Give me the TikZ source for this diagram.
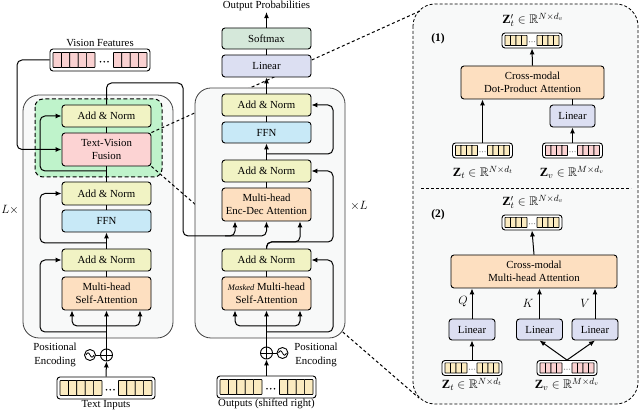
\documentclass[tikz,border=0pt]{standalone}
\usepackage{fontspec}
\setmainfont{Liberation Serif}
\usepackage{amssymb}
\usetikzlibrary{arrows.meta,calc}
\definecolor{anC}{HTML}{F1F3C4}
\definecolor{ffnC}{HTML}{C8E9F7}
\definecolor{attC}{HTML}{FDDFC0}
\definecolor{fusC}{HTML}{FCD3D3}
\definecolor{linC}{HTML}{DCDFF2}
\definecolor{smC}{HTML}{D5E8DA}
\definecolor{grnC}{HTML}{BFF3CB}
\definecolor{bgC}{HTML}{F8F9F9}
\definecolor{yelCell}{HTML}{FBEBC0}
\definecolor{pinkCell}{HTML}{FAD1D1}
\tikzset{
  blk/.style={draw=black, line width=0.9pt, rounded corners=3pt, inner sep=0pt, align=center,
    font=\fontsize{10.8}{12.5}\selectfont, minimum width=89pt},
  lbl/.style={font=\fontsize{10.8}{13.5}\selectfont, inner sep=1pt, align=center},
  mlbl/.style={font=\fontsize{12.5}{14}\selectfont, inner sep=1pt},
  conn/.style={line width=1pt, rounded corners=5pt},
  arr/.style={conn, -{Latex[length=6pt,width=5pt]}},
  vecbox/.style={draw=black, line width=0.9pt, rounded corners=3pt, fill=white, inner sep=0pt},
  cell/.style={draw=black, line width=0.7pt, rounded corners=0.5pt},
  dashconn/.style={line width=1pt, dash pattern=on 3pt off 2.5pt},
  pcirc/.style={circle, draw=black, line width=0.9pt, inner sep=0pt, fill=white}
}
\newcommand{\tokvec}[9]{%
  \node[vecbox, minimum width=#4pt, minimum height=#5pt] (#1) at (#2,#3) {};
  \pgfmathsetmacro{\tvP}{0.16*#5}
  \pgfmathsetmacro{\tvH}{#5-2*\tvP}
  \pgfmathsetmacro{\tvL}{#2-#4/2+3}
  \pgfmathsetmacro{\tvRt}{#2+#4/2-3-#7*#8}
  \pgfmathsetmacro{\tvT}{#3-\tvH/2}
  \foreach \i in {1,...,#6}{\draw[cell, fill=#9] (\tvL+\i*#8-#8,\tvT) rectangle ++(#8,\tvH);}
  \foreach \i in {1,...,#7}{\draw[cell, fill=#9] (\tvRt+\i*#8-#8,\tvT) rectangle ++(#8,\tvH);}
  \pgfmathsetmacro{\tvM}{(\tvL+#6*#8+\tvRt)/2}
  \pgfmathsetmacro{\tvR}{0.04*#5}
  \pgfmathsetmacro{\tvS}{0.17*#5}
  \pgfmathsetmacro{\tvY}{#3+0.08*#5}
  \ifdim #5pt>18pt \def\tvC{black}\else\def\tvC{gray}\fi
  \foreach \j in {-1,0,1}{\fill[\tvC] (\tvM+\j*\tvS,\tvY) circle[radius=\tvR pt];}
}
\begin{document}
\begin{tikzpicture}[x=1pt,y=-1pt]
\useasboundingbox (0,0) rectangle (640,411);

% ---------------- right panel background ----------------
\draw[line width=0.8pt, dash pattern=on 3pt off 2pt, fill=bgC, rounded corners=22pt] (413,4) rectangle (638,404);
\draw[line width=0.8pt, dash pattern=on 3pt off 2pt] (421,188) -- (631,188);

% ---------------- encoder ----------------
\draw[line width=0.8pt, draw=black!75, fill=bgC, rounded corners=16pt] (23,95) rectangle (173,338);
\draw[line width=1pt, dash pattern=on 4pt off 2.5pt, fill=grnC, rounded corners=8pt] (35,99) rectangle (162,177);

\node[blk, fill=anC, minimum height=22pt] (eAN1) at (106.5,116) {Add \& Norm};
\node[blk, fill=fusC, minimum height=33pt] (eFus) at (106.5,149.5) {Text-Vision\\Fusion};
\node[blk, fill=anC, minimum height=23pt] (eAN2) at (106.5,193.5) {Add \& Norm};
\node[blk, fill=ffnC, minimum height=22pt] (eFFN) at (106.5,221) {FFN};
\node[blk, fill=anC, minimum height=22pt] (eAN3) at (106.5,260) {Add \& Norm};
\node[blk, fill=attC, minimum height=33pt] (eSA) at (106.5,293.5) {Multi-head\\Self-Attention};

\tokvec{vf}{100}{60}{100}{22}{5}{4}{8.4}{pinkCell}
\node[lbl] (vfl) at (100,43) {Vision Features};
\tokvec{tin}{106}{388}{98}{22}{5}{4}{8.4}{yelCell}
\node[lbl] (tinl) at (106,405) {Text Inputs};

\node[pcirc, minimum size=12pt] (ePlus) at (106.5,355) {};
\draw[line width=0.8pt] (ePlus.north) -- (ePlus.south) (ePlus.west) -- (ePlus.east);
\node[pcirc, minimum size=11pt] (eSin) at (90,355) {};
\draw[line width=0.8pt] ([xshift=-4pt]eSin.center) sin ++(2,-2.2) cos ++(2,2.2) sin ++(2,2.2) cos ++(2,-2.2);
\draw[line width=0.8pt] (eSin) -- (ePlus);
\node[lbl] (ePE) at (55,355) {Positional\\Encoding};
\node[lbl, font=\fontsize{12.5}{14}\selectfont] (Lx) at (10,210) {$L\times$};

\coordinate (eB1) at (106.5,326);
\coordinate (eR1) at (106.5,332);
\coordinate (eR2) at (106.5,243);
\coordinate (eR3) at (106.5,171);
\draw[arr] (tin.north) -- (ePlus.south);
\draw[arr] (ePlus.north) -- (eSA.south);
\draw[arr] (eB1) -| ([xshift=-34.5pt]eSA.south);
\draw[arr] (eB1) -| ([xshift=33.5pt]eSA.south);
\draw[arr] (eR1) -| (40,260) -- (eAN3.west);
\draw[conn] (eSA.north) -- (eAN3.south);
\draw[arr] (eAN3.north) -- (eFFN.south);
\draw[conn] (eFFN.north) -- (eAN2.south);
\draw[arr] (eR2) -| (40,193.5) -- (eAN2.west);
\draw[conn] (eAN2.north) -- (eFus.south);
\draw[arr] (eR3) -| (40,116) -- (eAN1.west);
\draw[conn] (eFus.north) -- (eAN1.south);
\draw[arr] (vf.west) -| (17,149.5) -- (eFus.west);

% ---------------- dashed zoom lines ----------------
\coordinate (pTL) at (420,11);
\coordinate (pBL) at (419,398);
\draw[dashconn] (eFus.north east) -- (pTL);
\draw[dashconn] (eFus.south east) -- (pBL);

% ---------------- decoder ----------------
\draw[line width=0.8pt, draw=black!75, fill=bgC, rounded corners=16pt] (195,88) rectangle (345,338);

\node[lbl] (outp) at (266.5,6) {Output Probabilities};
\node[blk, fill=smC, minimum height=21pt] (dSm) at (266.5,38.5) {Softmax};
\node[blk, fill=linC, minimum height=22pt] (dLin) at (266.5,66) {Linear};
\node[blk, fill=anC, minimum height=22pt] (dAN1) at (266.5,105) {Add \& Norm};
\node[blk, fill=ffnC, minimum height=21pt] (dFFN) at (266.5,132.5) {FFN};
\node[blk, fill=anC, minimum height=22pt] (dAN2) at (266.5,171) {Add \& Norm};
\node[blk, fill=attC, minimum height=33pt] (dED) at (266.5,204.5) {Multi-head\\Enc-Dec Attention};
\node[blk, fill=anC, minimum height=22pt] (dAN3) at (266.5,260) {Add \& Norm};
\node[blk, fill=attC, minimum height=33pt] (dMSA) at (266.5,293.5) {{\fontsize{8.5}{10}\selectfont\itshape Masked} Multi-head\\Self-Attention};

\tokvec{tout}{266.5}{387}{99}{22}{5}{4}{8.4}{yelCell}
\node[lbl] (toutl) at (266.5,404) {Outputs (shifted right)};

\node[pcirc, minimum size=12pt] (dPlus) at (266.5,353) {};
\draw[line width=0.8pt] (dPlus.north) -- (dPlus.south) (dPlus.west) -- (dPlus.east);
\node[pcirc, minimum size=11pt] (dSin) at (282.5,353) {};
\draw[line width=0.8pt] ([xshift=-4pt]dSin.center) sin ++(2,-2.2) cos ++(2,2.2) sin ++(2,2.2) cos ++(2,-2.2);
\draw[line width=0.8pt] (dPlus) -- (dSin);
\node[lbl] (dPE) at (316,355) {Positional\\Encoding};
\node[lbl, font=\fontsize{12.5}{14}\selectfont] (xL) at (359,206) {$\times L$};

\coordinate (dB1) at (266.5,326);
\coordinate (dR1) at (266.5,332);
\coordinate (dJ) at (266.5,242);
\coordinate (dR3) at (266.5,154);
\draw[arr] (tout.north) -- (dPlus.south);
\draw[arr] (dPlus.north) -- (dMSA.south);
\draw[arr] (dB1) -| ([xshift=-31.5pt]dMSA.south);
\draw[arr] (dB1) -| ([xshift=33.5pt]dMSA.south);
\draw[arr] (dR1) -| (333,260) -- (dAN3.east);
\draw[conn] (dMSA.north) -- (dAN3.south);
\draw[arr] (dAN3.north) -- (dJ) -| ([xshift=33.5pt]dED.south);
\draw[arr] (dAN3.north) -- (dJ) -| (333,171) -- (dAN2.east);
\draw[conn] (dED.north) -- (dAN2.south);
\draw[arr] (dAN2.north) -- (dFFN.south);
\draw[arr] (dR3) -| (333,105) -- (dAN1.east);
\draw[conn] (dFFN.north) -- (dAN1.south);
\draw[arr] (dAN1.north) -- (dLin.south);
\draw[conn] (dLin.north) -- (dSm.south);
\draw[arr] (dSm.north) -- (outp.south);

% encoder -> decoder
\draw[arr] (eAN1.north) |- (183,83) |- (235,236) -- ([xshift=-31.5pt]dED.south);
\draw[arr] (225,236) -| (dED.south);

% ---------------- panel (1) ----------------
\node[lbl, font=\bfseries\fontsize{11.5}{12}\selectfont] (p1) at (438,39) {(1)};
\node[mlbl] (lzp1) at (533,20) {$\mathbf{Z}'_t \in \mathbb{R}^{N\times d_v}$};
\tokvec{zp1}{532}{40.5}{60}{15}{4}{4}{5.5}{yelCell}
\node[blk, fill=attC, minimum width=143pt, minimum height=33pt] (dpa) at (532.5,82.5) {Cross-modal\\Dot-Product Attention};
\node[blk, fill=linC, minimum width=45pt, minimum height=22pt] (lin1) at (572.5,116) {Linear};
\tokvec{zt1}{482.5}{150.5}{60}{15}{4}{4}{5.5}{yelCell}
\tokvec{zv1}{572.5}{150.5}{60}{15}{4}{4}{5.5}{pinkCell}
\node[mlbl] (lzt1) at (483,172) {$\mathbf{Z}_t \in \mathbb{R}^{N\times d_t}$};
\node[mlbl] (lzv1) at (572,172) {$\mathbf{Z}_v \in \mathbb{R}^{M\times d_v}$};
\draw[arr] (dpa.north) -- (zp1.south);
\draw[arr] (zt1.north) -- (zt1.north |- dpa.south);
\draw[arr] (zv1.north) -- (lin1.south);
\draw[conn] (lin1.north) -- (lin1.north |- dpa.south);

% ---------------- panel (2) ----------------
\node[lbl, font=\bfseries\fontsize{11.5}{12}\selectfont] (p2) at (438,215) {(2)};
\node[mlbl] (lzp2) at (533,202) {$\mathbf{Z}'_t \in \mathbb{R}^{N\times d_v}$};
\tokvec{zp2}{532}{222.5}{60}{15}{4}{4}{5.5}{yelCell}
\node[blk, fill=attC, minimum width=166pt, minimum height=33pt] (mha) at (534,271.5) {Cross-modal\\Multi-head Attention};
\node[blk, fill=linC, minimum width=46pt, minimum height=21pt] (lq) at (472,329.5) {Linear};
\node[blk, fill=linC, minimum width=46pt, minimum height=21pt] (lk) at (539.5,329.5) {Linear};
\node[blk, fill=linC, minimum width=46pt, minimum height=21pt] (lv) at (595,329.5) {Linear};
\node[mlbl] (q) at (463,302) {$Q$};
\node[mlbl] (k) at (528,303) {$K$};
\node[mlbl] (v) at (585,303) {$V$};
\tokvec{zt2}{472}{368}{60}{15}{4}{4}{5.5}{yelCell}
\tokvec{zv2}{567}{368}{60}{15}{4}{4}{5.5}{pinkCell}
\node[mlbl] (lzt2) at (472,384) {$\mathbf{Z}_t \in \mathbb{R}^{N\times d_t}$};
\node[mlbl] (lzv2) at (567,384) {$\mathbf{Z}_v \in \mathbb{R}^{M\times d_v}$};
\draw[arr] (mha.north) -- (zp2.south);
\draw[arr] (lq.north) -- (lq.north |- mha.south);
\draw[arr] (lk.north) -- (lk.north |- mha.south);
\draw[arr] (lv.north) -- (lv.north |- mha.south);
\draw[arr] (zt2.north) -- (lq.south);
\draw[arr] (zv2.north) -- (lk.south);
\draw[arr] (zv2.north) -- (lv.south);
\end{tikzpicture}
\end{document}
